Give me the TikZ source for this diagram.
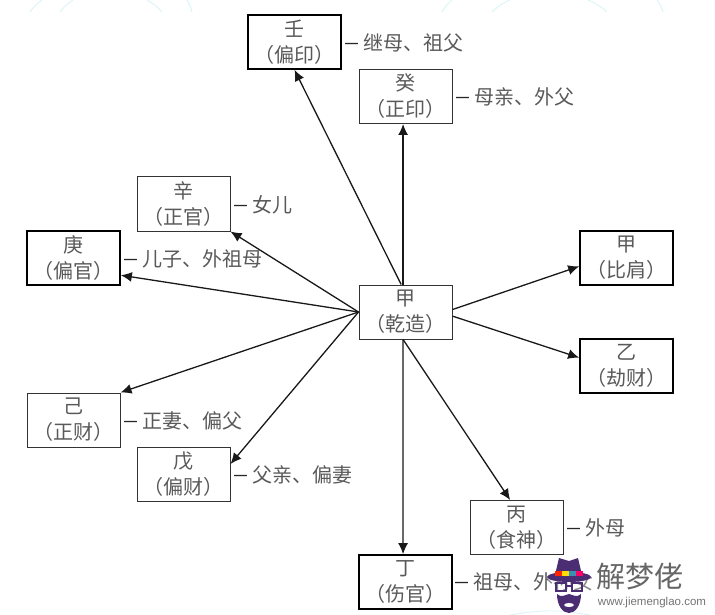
\documentclass[tikz,border=0pt]{standalone}
\usepackage{fontspec}
\newfontfamily\cjk{Noto Sans CJK SC}
\newfontfamily\urlfont{Liberation Sans}
\usetikzlibrary{arrows.meta}
\definecolor{maozi}{HTML}{4B2D73}
\definecolor{hubian}{HTML}{DDF4F6}
\newcommand{\duan}{\raisebox{3.5pt}{\urlfont\bfseries\fontsize{13}{13}\selectfont\textcolor{black!85}{—}}\hspace{5pt}}
\tikzset{
  shen/.style={draw=black!80,line width=1pt,minimum width=93pt,minimum height=54pt,inner sep=0pt,align=center,font=\cjk\fontsize{20}{26}\selectfont,text=black!65},
  shenb/.style={shen,draw=black,line width=1.7pt},
  rel/.style={anchor=west,inner sep=0pt,font=\cjk\fontsize{20}{24}\selectfont,text=black!65},
  jian/.style={draw=black!90,line width=1.3pt,-{Latex[length=11pt,width=10pt]}},
  hu/.style={draw=hubian,line width=1pt},
}
\begin{document}
\begin{tikzpicture}[x=1pt,y=-1pt]
\useasboundingbox (0,0) rectangle (715,615);
% faint arcs behind the chart
\draw[hu] (30,12) to[bend left=10] (42,0);
\draw[hu] (60,12) to[bend left=10] (73,0);
\draw[hu] (162,12) to[bend right=10] (147,0);
\draw[hu] (192,12) to[bend right=10] (187,0);
\draw[hu] (442,12) to[bend left=10] (452,0);
\draw[hu] (492,12) to[bend left=10] (510,0);
\draw[hu] (607,12) to[bend right=10] (588,0);
\draw[hu] (663,12) to[bend right=10] (657,0);
\draw[hu] (510,615) to[bend left=10] (590,615);
% boxes
\node[shenb] (ren) at (294.5,42) {壬\\（偏印）};
\node[shen] (gui) at (405.5,96.5) {癸\\（正印）};
\node[shen] (xin) at (183.5,204) {辛\\（正官）};
\node[shenb] (geng) at (73.5,258) {庚\\（偏官）};
\node[shen] (jia) at (405.5,312) {甲\\（乾造）};
\node[shenb] (bijian) at (626.5,258) {甲\\（比肩）};
\node[shenb] (yi) at (626.5,366) {乙\\（劫财）};
\node[shen] (ji) at (73.5,420) {己\\（正财）};
\node[shen] (wu) at (183.5,474) {戊\\（偏财）};
\node[shen] (bing) at (516.5,527.5) {丙\\（食神）};
\node[shenb] (ding) at (405.5,582) {丁\\（伤官）};
% relations
\node[rel] (lren) at (345,43) {\duan 继母、祖父};
\node[rel] (lgui) at (456,97) {\duan 母亲、外父};
\node[rel] (lxin) at (234,205) {\duan 女儿};
\node[rel] (lgeng) at (124,259) {\duan 儿子、外祖母};
\node[rel] (lji) at (124,421) {\duan 正妻、偏父};
\node[rel] (lwu) at (234,475) {\duan 父亲、偏妻};
\node[rel] (lbing) at (567,528) {\duan 外母};
\node[rel] (lding) at (455,582) {\duan 祖母、外孙女};
% arrows
\draw[jian] (jia.95) -- (gui.-95);
\draw[jian] (jia.99) -- (ren.south);
\draw[jian] (jia.west) -- (xin.south east);
\draw[jian] (jia.west) -- (geng.-20);
\draw[jian] (jia.west) -- (ji.north east);
\draw[jian] (jia.west) -- (wu.12);
\draw[jian] (jia.3) -- (bijian.190);
\draw[jian] (jia.-5) -- (yi.170);
\draw[jian] (jia.-95) -- (ding.95);
\draw[jian] (jia.-95) -- (bing.103);
% watermark
\fill[white,opacity=.3] (548,556) rectangle (600,612);
\fill[maozi] (555,575) -- (559,558) -- (569,561) -- (578,558) -- (582,575) -- cycle;
\fill[maozi] (569,577) ellipse (22 and 5);
\fill[red!70!orange] (555,571) rectangle (562,576);
\fill[yellow!80!orange] (562,571) rectangle (569,576);
\fill[cyan!70!black] (569,571) rectangle (576,576);
\fill[red!60!magenta] (576,571) rectangle (583,576);
\draw[maozi,line width=1.4pt] (556,583) rectangle (566,591) (572,583) rectangle (582,591) (566,586) -- (572,586);
\fill[maozi] (557,594) .. controls (561,598) and (565,595) .. (569,594) .. controls (573,595) and (577,598) .. (581,594) .. controls (581,606) and (575,613) .. (569,613) .. controls (563,613) and (557,606) .. (557,594) -- cycle;
\fill[white] (569,605) ellipse (5 and 2);
\node[inner sep=0pt,font=\cjk\fontsize{29}{30}\selectfont,text=black!60] (jmz) at (640,577) {解梦佬};
\node[inner sep=0pt,font=\urlfont\fontsize{11.5}{12}\selectfont,text=black!55] (jmw) at (652,603) {www.jiemenglao.com};
\end{tikzpicture}
\end{document}
